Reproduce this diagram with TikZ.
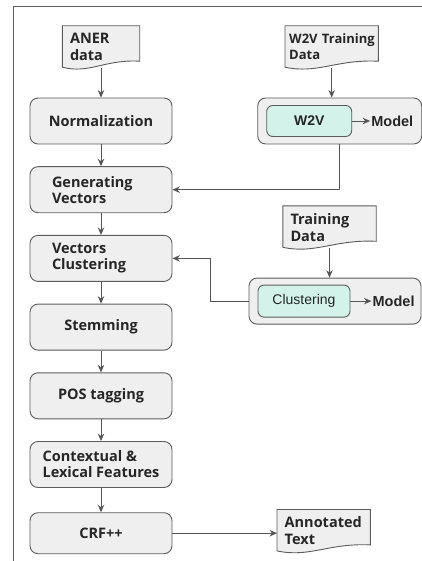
\documentclass[tikz,border=0pt]{standalone}
\usepackage{fontspec}
\setmainfont{Open Sans}
\newfontfamily\arialfont{Liberation Sans}
\usepackage{xcolor}
\usetikzlibrary{shapes.geometric, arrows.meta, positioning, calc, backgrounds}
\definecolor{boxfill}{HTML}{EFEFEF}
\definecolor{boxline}{HTML}{5C5C5C}
\definecolor{innerfill}{HTML}{D3F2EA}
\definecolor{arrowgray}{HTML}{555555}
\definecolor{labeltext}{HTML}{262626}
\tikzset{
  process/.style={rectangle, rounded corners=8pt, minimum width=142pt, minimum height=46pt, draw=boxline, fill=boxfill, line width=0.9pt, text=labeltext, font=\bfseries\fontsize{14.5}{16}\selectfont, align=left},
  container/.style={rectangle, rounded corners=8pt, minimum height=46pt, draw=boxline, fill=boxfill, line width=0.9pt},
  inner/.style={rectangle, rounded corners=6pt, minimum width=85pt, minimum height=31pt, draw=boxline, fill=innerfill, line width=0.9pt, text=labeltext, font=\arialfont\fontsize{14}{16}\selectfont},
  docbox/.style={rectangle, inner xsep=7.5pt, text width=#1, minimum height=42pt, align=left, text=labeltext, font=\bfseries\fontsize{14.5}{17}\selectfont},
  modeltext/.style={inner sep=1pt, text=labeltext, font=\arialfont\bfseries\fontsize{14.5}{16}\selectfont},
  arrow/.style={draw=arrowgray, line width=0.9pt, -{Stealth[length=7.5pt, width=6.5pt, inset=2.5pt]}},
  frame/.style={draw=boxline, line width=1pt}
}
% outline of a document node, wavy at the bottom
\newcommand{\docoutline}[1]{%
  \path[draw=boxline, fill=boxfill, line width=0.9pt]
    (#1.north west) -- (#1.north east) -- ([yshift=7pt]#1.south east)
    .. controls ($(#1.south east)!0.45!(#1.south west)+(0,9pt)$) and ($(#1.south east)!0.65!(#1.south west)+(0,-6pt)$) .. ([yshift=1pt]#1.south west) -- cycle;}

\begin{document}
\begin{tikzpicture}[x=1pt, y=1pt, node distance=68.7pt]
        \useasboundingbox (0,0) rectangle (422,-561);

        % Nodes
        \node (norm) [process] at (101,-121) {Normalization};
        \node (aner) [docbox=62pt, above of=norm, yshift=5.3pt] {ANER\\data};
        \node (genvec) [process, text width=98pt, below of=norm] {Generating\\Vectors};
        \node (vecclus) [process, text width=98pt, below of=genvec] {Vectors\\Clustering};
        \node (stem) [process, below of=vecclus] {Stemming};
        \node (pos) [process, below of=stem] {POS tagging};
        \node (ctx) [process, below of=pos] {Contextual \&\\Lexical Features};
        \node (crf) [process, minimum height=41pt, below of=ctx] {CRF++};

        \node (w2vbox) [container, minimum width=164pt, right of=norm, xshift=170pt] {};
        \node (w2v) [inner, font=\arialfont\bfseries\fontsize{14}{16}\selectfont, right=9pt of w2vbox.west] {W2V};
        \node (model1) [modeltext, right=18pt of w2v] {Model};
        \node (w2vdata) [docbox=85pt, inner xsep=4pt, font=\bfseries\fontsize{13}{16}\selectfont, right of=aner, xshift=162pt] {\mbox{W2V Training}\\Data};

        \node (clusbox) [container, minimum width=172pt, right of=stem, xshift=165.3pt, yshift=26pt] {};
        \node (clus) [inner, minimum width=92pt, minimum height=32pt, right=9pt of clusbox.west] {Clustering};
        \node (model2) [modeltext, right=21pt of clus] {Model};
        \node (traindata) [docbox=78pt, above of=clusbox, xshift=-5.5pt, yshift=5.3pt] {Training\\Data};

        \node (annot) [docbox=78pt, right of=crf, xshift=154pt, yshift=2.5pt] {\mbox{Annotated}\\Text};

        \begin{scope}[on background layer]
          \fill[white] (0,0) rectangle (422,-561);
          \draw[frame] (13,-561) -- (13,-7) -- (422,-7);
          \docoutline{aner}
          \docoutline{w2vdata}
          \docoutline{traindata}
          \docoutline{annot}
        \end{scope}

        % Paths
        \draw [arrow] (aner.south) -- (norm.north);
        \draw [arrow] (norm) -- (genvec);
        \draw [arrow] (genvec) -- (vecclus);
        \draw [arrow] (vecclus) -- (stem);
        \draw [arrow] (stem) -- (pos);
        \draw [arrow] (pos) -- (ctx);
        \draw [arrow] (ctx) -- (crf);
        \draw [arrow] (crf.east) -- (crf.east -| annot.west);

        % Training side
        \draw [arrow] (w2vdata.south) -- (w2vdata.south |- w2vbox.north);
        \draw [arrow] (w2v.east) -- (model1.west);
        \draw [arrow] (w2vbox.south) |- (genvec.east);

        \draw [arrow] (traindata.south) -- (traindata.south |- clusbox.north);
        \draw [arrow] (clus.east) -- (model2.west);
        \draw [arrow] (clusbox.west) -- ++(-38pt,0) |- (vecclus.east);
\end{tikzpicture}
\end{document}
